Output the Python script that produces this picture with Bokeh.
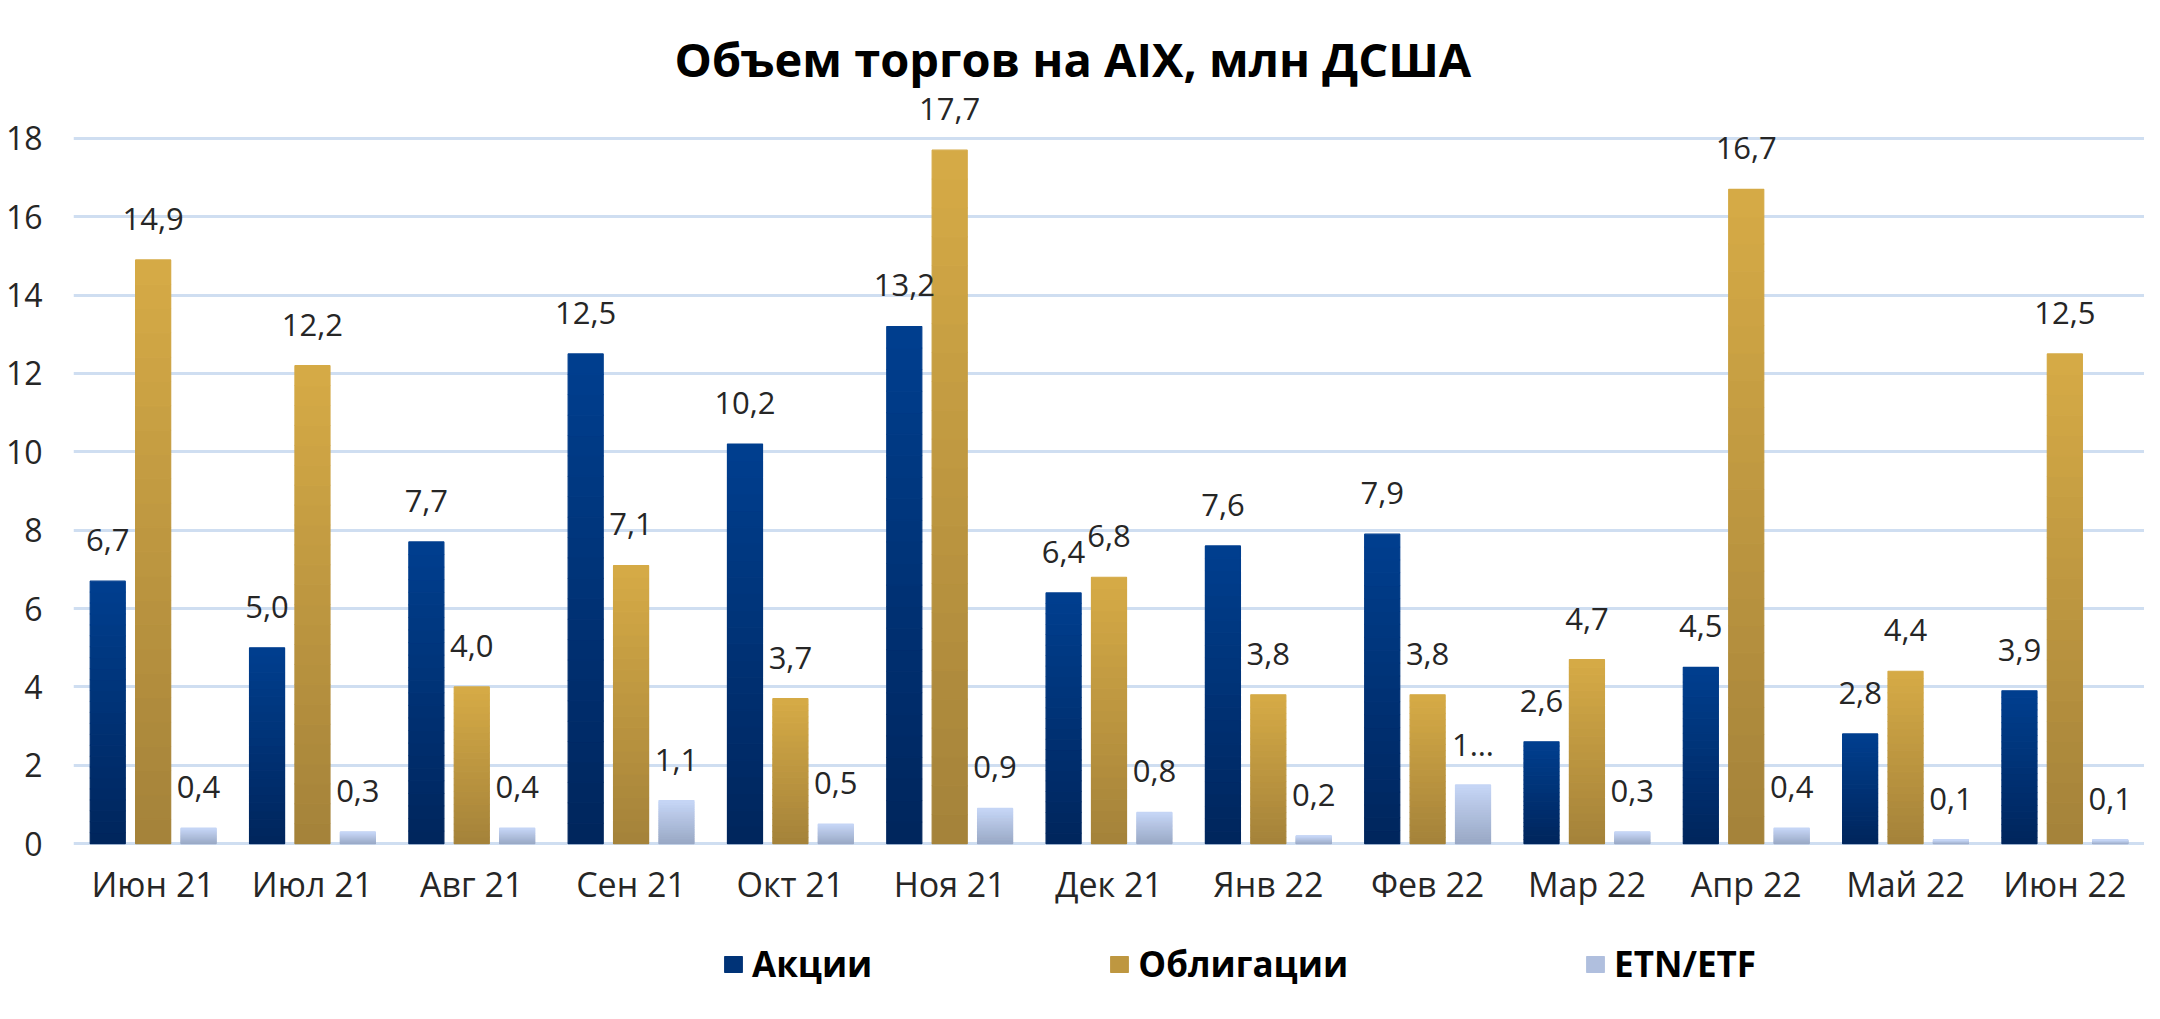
import numpy as np
from bokeh.plotting import figure
from bokeh.models import ColumnDataSource, FactorRange, Range1d, LabelSet, Legend, LegendItem, FixedTicker
from bokeh.core.properties import value
from bokeh.transform import dodge
from bokeh.embed import file_html
from bokeh.resources import INLINE

months = ["Июн 21", "Июл 21", "Авг 21", "Сен 21", "Окт 21", "Ноя 21", "Дек 21",
          "Янв 22", "Фев 22", "Мар 22", "Апр 22", "Май 22", "Июн 22"]
akcii = [6.7, 5.0, 7.7, 12.5, 10.2, 13.2, 6.4, 7.6, 7.9, 2.6, 4.5, 2.8, 3.9]
obligacii = [14.9, 12.2, 4.0, 7.1, 3.7, 17.7, 6.8, 3.8, 3.8, 4.7, 16.7, 4.4, 12.5]
etn_etf = [0.4, 0.3, 0.4, 1.1, 0.5, 0.9, 0.8, 0.2, 1.5, 0.3, 0.4, 0.1, 0.1]
# excel cut the Feb label short
etn_labels = ["0,4", "0,3", "0,4", "1,1", "0,5", "0,9", "0,8", "0,2", "1…", "0,3", "0,4", "0,1", "0,1"]
y_ticks = [0, 2, 4, 6, 8, 10, 12, 14, 16, 18]

FONT = "Open Sans"
TXT = "#262626"

# frame runs down to the bottom of the canvas so the legend can sit inside it
p = figure(x_range=FactorRange(*months, range_padding=0), y_range=Range1d(-4.08, 19.07),
           width=2144, height=1003, output_backend="svg", toolbar_location=None,
           min_border_left=73, min_border_right=0, min_border_top=96, min_border_bottom=0,
           title="Объем торгов на AIX, млн ДСША")
p.outline_line_color = None
p.title.align = "left"
p.title.offset = 601
p.title.standoff = 12
p.title.text_font = FONT
p.title.text_font_size = "47px"
p.title.text_font_style = "bold"
p.title.text_color = "#000000"

p.xaxis.visible = False
p.xgrid.grid_line_color = None
p.ygrid.grid_line_color = "#cfdef1"
p.ygrid.grid_line_width = 3

p.yaxis.ticker = FixedTicker(ticks=y_ticks)
p.yaxis.axis_line_color = None
p.yaxis.major_tick_line_color = None
p.yaxis.minor_tick_line_color = None
p.yaxis.major_label_text_font = FONT
p.yaxis.major_label_text_color = TXT
p.yaxis.major_label_text_font_size = "32px"
p.yaxis.major_label_standoff = 25


def mix(c1, c2, t):
    a = [int(c1[i:i + 2], 16) for i in (1, 3, 5)]
    b = [int(c2[i:i + 2], 16) for i in (1, 3, 5)]
    return "#%02x%02x%02x" % tuple(round(a[j] + (b[j] - a[j]) * t) for j in range(3))


N = 24
def gradient_bars(values, offset, top_color, bottom_color):
    vals = np.array(values)
    rends = []
    for k in range(N):
        c = mix(bottom_color, top_color, (k + 0.5) / N)
        src = ColumnDataSource(dict(month=months, bottom=vals * k / N, top=vals * (k + 1) / N))
        rends.append(p.vbar(x=dodge("month", offset, range=p.x_range), bottom="bottom", top="top",
                            width=0.22, source=src, fill_color=c, line_color=c, line_width=1.2))
    return rends


r1 = gradient_bars(akcii, -0.285, "#003f8f", "#00255c")
r2 = gradient_bars(obligacii, 0.0, "#d6ab46", "#a4823a")
r3 = gradient_bars(etn_etf, 0.285, "#c6d6f6", "#98a7c4")


def fmt(v):
    return ("%.1f" % v).replace(".", ",")


for vals, offset, texts in ((akcii, -0.285, [fmt(v) for v in akcii]),
                            (obligacii, 0.0, [fmt(v) for v in obligacii]),
                            (etn_etf, 0.285, etn_labels)):
    src = ColumnDataSource(dict(month=months, y=vals, t=texts))
    p.add_layout(LabelSet(x=dodge("month", offset, range=p.x_range), y="y", text="t", source=src,
                          y_offset=41, text_align="center", text_baseline="middle",
                          text_font=value(FONT), text_font_size="31px", text_color=TXT))

# month names under the zero line
cat_src = ColumnDataSource(dict(month=months, y=[0] * len(months)))
p.add_layout(LabelSet(x="month", y="y", text="month", source=cat_src, y_offset=-40,
                      text_align="center", text_baseline="middle",
                      text_font=value(FONT), text_font_size="34px", text_color=TXT))

legend = Legend(items=[LegendItem(label="Акции", renderers=[r1[N // 2]]),
                       LegendItem(label="Облигации", renderers=[r2[N // 2]]),
                       LegendItem(label="ETN/ETF", renderers=[r3[N // 2]])],
                orientation="horizontal", location=(649, 16), spacing=236,
                glyph_width=22, glyph_height=20, label_standoff=8, padding=0, margin=0,
                label_text_font=FONT, label_text_font_size="35px", label_text_font_style="bold",
                label_text_color="#000000", background_fill_alpha=0, border_line_color=None)
p.add_layout(legend, "center")

open("out.html", "w").write(file_html(p, INLINE))
